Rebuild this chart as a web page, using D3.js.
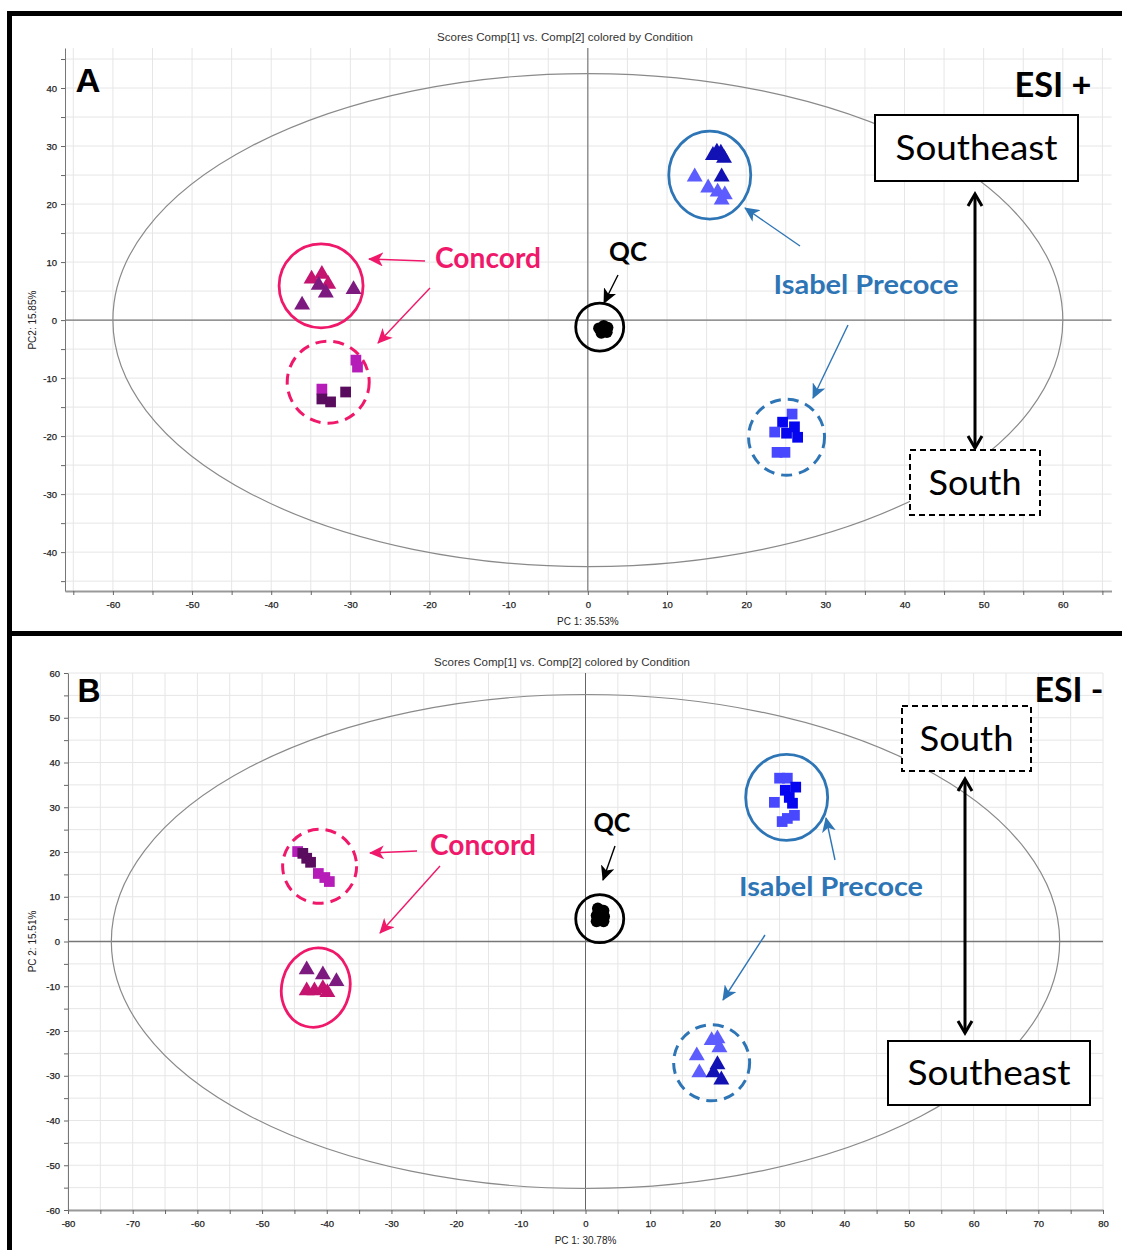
<!DOCTYPE html>
<html>
<head>
<meta charset="utf-8">
<script src="https://cdn.jsdelivr.net/npm/d3@7"></script>
<style>
  body { margin: 0; background: #fff; }
  svg { display: block; }
</style>
</head>
<body>
<svg id="chart" width="1122" height="1250"></svg>
<script>
// ---------- data ----------
const xTicksA = [-60, -50, -40, -30, -20, -10, 0, 10, 20, 30, 40, 50, 60];
const yTicksA = [-40, -30, -20, -10, 0, 10, 20, 30, 40];
const xTicksB = [-80, -70, -60, -50, -40, -30, -20, -10, 0, 10, 20, 30, 40, 50, 60, 70, 80];
const yTicksB = [-60, -50, -40, -30, -20, -10, 0, 10, 20, 30, 40, 50, 60];

const titles = ["Scores Comp[1] vs. Comp[2] colored by Condition", "Scores Comp[1] vs. Comp[2] colored by Condition"];
const xLabels = ["PC 1: 35.53%", "PC 1: 30.78%"];
const yLabels = ["PC2: 15.85%", "PC 2: 15.51%"];

// Hotelling T2 ellipse half axes (PC1, PC2)
const ellipseA = [60, 42.5];
const ellipseB = [73.3, 55.2];

// ESI + samples
const concordSE_A = [
  { x: -34.9, y: 7.1, c: "concSE1" }, { x: -33.6, y: 7.9, c: "concSE1" }, { x: -32.8, y: 6.2, c: "concSE1" },
  { x: -34.0, y: 6.0, c: "concSE2" }, { x: -33.1, y: 4.7, c: "concSE2" }, { x: -29.6, y: 5.3, c: "concSE2" },
  { x: -36.1, y: 2.6, c: "concSE2" }
];
const concordS_A = [
  { x: -29.3, y: -6.9, c: "concS1" }, { x: -29.1, y: -8.1, c: "concS1" }, { x: -33.6, y: -11.9, c: "concS1" },
  { x: -33.6, y: -13.6, c: "concS2" }, { x: -32.5, y: -14.1, c: "concS2" }, { x: -30.6, y: -12.4, c: "concS2" }
];
const qc_A = [
  { x: 1.4, y: -1.4 }, { x: 2.0, y: -1.0 }, { x: 2.4, y: -2.1 }, { x: 1.7, y: -2.2 },
  { x: 2.2, y: -1.5 }, { x: 1.8, y: -1.8 }, { x: 2.5, y: -1.3 }
];
const isabelSE_A = [
  { x: 16.3, y: 29.0, c: "isaSE1" }, { x: 16.8, y: 28.8, c: "isaSE1" }, { x: 15.8, y: 28.4, c: "isaSE1" },
  { x: 17.2, y: 27.9, c: "isaSE1" }, { x: 16.9, y: 24.7, c: "isaSE1" },
  { x: 13.5, y: 24.7, c: "isaSE2" }, { x: 15.2, y: 22.8, c: "isaSE2" }, { x: 16.4, y: 22.1, c: "isaSE2" },
  { x: 17.3, y: 21.6, c: "isaSE2" }, { x: 16.9, y: 20.7, c: "isaSE2" }
];
const isabelS_A = [
  { x: 25.8, y: -16.2, c: "isaS2" }, { x: 24.6, y: -17.6, c: "isaS1" }, { x: 23.6, y: -19.3, c: "isaS2" },
  { x: 25.1, y: -19.5, c: "isaS1" }, { x: 26.1, y: -18.4, c: "isaS1" }, { x: 26.5, y: -20.2, c: "isaS1" },
  { x: 23.9, y: -22.8, c: "isaS2" }, { x: 24.9, y: -22.8, c: "isaS2" }
];

// ESI - samples
const concordS_B = [
  { x: -44.5, y: 20.1, c: "concS1" }, { x: -43.7, y: 19.7, c: "concS2" }, { x: -43.1, y: 18.6, c: "concS2" },
  { x: -42.5, y: 17.7, c: "concS2" }, { x: -41.3, y: 15.2, c: "concS1" }, { x: -40.3, y: 14.3, c: "concS1" },
  { x: -39.6, y: 13.4, c: "concS1" }
];
const concordSE_B = [
  { x: -43.1, y: -6.3, c: "concSE2" }, { x: -40.6, y: -7.4, c: "concSE2" }, { x: -38.5, y: -8.9, c: "concSE2" },
  { x: -43.1, y: -11.0, c: "concSE1" }, { x: -41.9, y: -11.0, c: "concSE1" }, { x: -39.9, y: -11.4, c: "concSE1" },
  { x: -40.6, y: -10.5, c: "concSE1" }
];
const qc_B = [
  { x: 1.9, y: 7.4 }, { x: 2.8, y: 6.9 }, { x: 1.7, y: 5.8 }, { x: 2.9, y: 5.6 },
  { x: 2.2, y: 4.7 }, { x: 2.8, y: 4.5 }, { x: 1.7, y: 4.5 }
];
const isabelSE_B = [
  { x: 30.0, y: 36.5, c: "isaS2" }, { x: 31.2, y: 36.5, c: "isaS2" }, { x: 32.5, y: 34.5, c: "isaS1" },
  { x: 30.9, y: 33.8, c: "isaS1" }, { x: 31.5, y: 32.2, c: "isaS1" }, { x: 29.2, y: 31.1, c: "isaS2" },
  { x: 32.0, y: 30.9, c: "isaS1" }, { x: 30.4, y: 26.8, c: "isaS2" }, { x: 32.3, y: 28.2, c: "isaS2" },
  { x: 31.2, y: 27.5, c: "isaS2" }
];
const isabelS_B = [
  { x: 19.5, y: -22.1, c: "isaSE2" }, { x: 20.4, y: -21.7, c: "isaSE2" }, { x: 20.7, y: -23.7, c: "isaSE2" },
  { x: 17.2, y: -25.5, c: "isaSE2" }, { x: 17.6, y: -29.3, c: "isaSE2" },
  { x: 20.4, y: -27.5, c: "isaSE1" }, { x: 19.8, y: -29.3, c: "isaSE1" }, { x: 21.0, y: -30.9, c: "isaSE1" }
];

// ---------- styles ----------
const conditionColor = d3.scaleOrdinal()
  .domain(["concSE1", "concSE2", "concS1", "concS2", "isaSE1", "isaSE2", "isaS1", "isaS2"])
  .range(["#c4146f", "#7c1a80", "#b51cb8", "#5a0c5e", "#1212b4", "#5c5cff", "#0505f0", "#4848ff"]);

const PINK = "#f0186a";
const BLUE = "#2e75b6";
const annFont = "Lato, 'Open Sans', sans-serif";
const axisFont = "'Liberation Sans', Arial, sans-serif";

const svg = d3.select("#chart");

// arrow markers
const defs = svg.append("defs");
[["pink", PINK], ["blue", BLUE], ["black", "#000"]].forEach(([id, col]) => {
  defs.append("marker")
    .attr("id", "head-" + id)
    .attr("markerUnits", "userSpaceOnUse")
    .attr("markerWidth", 16).attr("markerHeight", 14)
    .attr("refX", 14).attr("refY", 7)
    .attr("orient", "auto")
    .append("path")
    .attr("d", "M0,0 L15,7 L0,14 L4,7 Z")
    .attr("fill", col);
});
defs.append("marker")
  .attr("id", "open-head")
  .attr("markerUnits", "userSpaceOnUse")
  .attr("markerWidth", 18).attr("markerHeight", 18)
  .attr("refX", 13).attr("refY", 9)
  .attr("orient", "auto-start-reverse")
  .append("path")
  .attr("d", "M2,2 L14,9 L2,16")
  .attr("fill", "none")
  .attr("stroke", "#000")
  .attr("stroke-width", 3);

function drawPanel(p) {
  const g = svg.append("g");
  const x = d3.scaleLinear().domain(p.xDomain).range([p.left, p.right]);
  const y = d3.scaleLinear().domain(p.yDomain).range([p.bottom, p.top]);

  // grid every 5 units
  const gx = d3.range(Math.ceil(p.xDomain[0] / 5) * 5, p.xDomain[1] + 0.01, 5);
  const gy = d3.range(Math.ceil(p.yDomain[0] / 5) * 5, p.yDomain[1] + 0.01, 5);
  g.append("g").selectAll("line").data(gx).join("line")
    .attr("x1", d => x(d)).attr("x2", d => x(d))
    .attr("y1", p.top).attr("y2", p.bottom)
    .attr("stroke", "#e6e6e6").attr("stroke-width", 1);
  g.append("g").selectAll("line").data(gy).join("line")
    .attr("x1", p.left).attr("x2", p.right)
    .attr("y1", d => y(d)).attr("y2", d => y(d))
    .attr("stroke", "#e6e6e6").attr("stroke-width", 1);

  // zero lines
  g.append("line").attr("x1", x(0)).attr("x2", x(0)).attr("y1", p.top).attr("y2", p.bottom)
    .attr("stroke", "#666").attr("stroke-width", 1);
  g.append("line").attr("x1", p.left).attr("x2", p.right).attr("y1", y(0)).attr("y2", y(0))
    .attr("stroke", "#777").attr("stroke-width", 1.3);

  // ellipse
  g.append("ellipse")
    .attr("cx", x(0)).attr("cy", y(0))
    .attr("rx", x(p.ellipse[0]) - x(0)).attr("ry", y(0) - y(p.ellipse[1]))
    .attr("fill", "none").attr("stroke", "#8a8a8a").attr("stroke-width", 1.2);

  // axes
  const fmt = d => (d % 10 === 0 ? d : "");
  const xAxis = g.append("g").attr("transform", `translate(0,${p.bottom})`)
    .call(d3.axisBottom(x).tickValues(gx).tickFormat(fmt).tickSize(4).tickSizeOuter(0));
  const yAxis = g.append("g").attr("transform", `translate(${p.left},0)`)
    .call(d3.axisLeft(y).tickValues(gy).tickFormat(fmt).tickSize(4).tickSizeOuter(0));
  xAxis.select(".domain").attr("stroke", "#999").attr("stroke-width", 2);
  yAxis.select(".domain").attr("stroke", "#777").attr("stroke-width", 1);
  [xAxis, yAxis].forEach(a => {
    a.selectAll(".tick line").attr("stroke", "#666");
    a.selectAll("text").attr("font-family", axisFont).attr("font-size", 9.5)
      .attr("fill", "#222").attr("stroke", "#222").attr("stroke-width", 0.25);
  });
  xAxis.selectAll("text").attr("dy", "1.05em");
  yAxis.selectAll("text").attr("dx", "-1");
  xAxis.selectAll(".tick").filter(d => !p.xTicks.includes(d)).select("text").remove();
  yAxis.selectAll(".tick").filter(d => !p.yTicks.includes(d)).select("text").remove();

  // titles
  g.append("text").attr("x", p.titleX).attr("y", p.top - 7)
    .attr("text-anchor", "middle").attr("font-family", axisFont).attr("font-size", 10)
    .attr("textLength", 256).attr("lengthAdjust", "spacingAndGlyphs")
    .attr("fill", "#333").text(p.title);
  g.append("text").attr("x", x(0)).attr("y", p.bottom + 34)
    .attr("text-anchor", "middle").attr("font-family", axisFont).attr("font-size", 10)
    .attr("fill", "#222").text(p.xLabel);
  g.append("text").attr("transform", `translate(36,${y(0)}) rotate(-90)`)
    .attr("text-anchor", "middle").attr("font-family", axisFont).attr("font-size", 10)
    .attr("fill", "#222").text(p.yLabel);

  // cluster rings
  p.rings.forEach(r => {
    g.append("ellipse")
      .attr("cx", x(r.x)).attr("cy", y(r.y))
      .attr("rx", r.rx).attr("ry", r.ry)
      .attr("transform", r.rot ? `rotate(${r.rot},${x(r.x)},${y(r.y)})` : null)
      .attr("fill", "none").attr("stroke", r.color).attr("stroke-width", r.dash ? 3 : 2.8)
      .attr("stroke-dasharray", r.dash ? "11,7" : null);
  });

  // samples
  const tri = d3.symbol(d3.symbolTriangle, 110);
  const sq = d3.symbol(d3.symbolSquare, 115);
  p.series.forEach(s => {
    g.append("g").selectAll("path").data(s.data).join("path")
      .attr("d", s.shape === "tri" ? tri : sq)
      .attr("transform", d => `translate(${x(d.x)},${y(d.y)})`)
      .attr("fill", d => conditionColor(d.c));
  });
  g.append("g").selectAll("circle").data(p.qc).join("circle")
    .attr("cx", d => x(d.x)).attr("cy", d => y(d.y)).attr("r", 5.8).attr("fill", "#000");

  // annotation texts
  p.labels.forEach(l => {
    g.append("text").attr("x", l.x).attr("y", l.y).attr("dy", "0.35em")
      .attr("text-anchor", "middle")
      .attr("font-family", l.font || annFont).attr("font-weight", l.bold ? 700 : 400)
      .attr("font-size", l.size).attr("fill", l.color)
      .attr("textLength", l.w).attr("lengthAdjust", "spacingAndGlyphs")
      .text(l.text);
  });

  // boxes
  p.boxes.forEach(b => {
    g.append("rect").attr("x", b.x).attr("y", b.y).attr("width", b.w).attr("height", b.h)
      .attr("fill", "#fff").attr("stroke", "#000").attr("stroke-width", 2)
      .attr("stroke-dasharray", b.dash ? "6,4" : null);
    g.append("text").attr("x", b.x + b.w / 2).attr("y", b.y + b.h / 2).attr("dy", "0.36em")
      .attr("text-anchor", "middle").attr("font-family", annFont).attr("font-size", 34)
      .attr("textLength", b.tw).attr("lengthAdjust", "spacingAndGlyphs")
      .text(b.text);
  });

  // arrows
  p.arrows.forEach(a => {
    g.append("line").attr("x1", a[0]).attr("y1", a[1]).attr("x2", a[2]).attr("y2", a[3])
      .attr("stroke", a[4] === "pink" ? PINK : a[4] === "blue" ? BLUE : "#000")
      .attr("stroke-width", 1.4)
      .attr("marker-end", `url(#head-${a[4]})`);
  });
  g.append("line")
    .attr("x1", p.dbl[0]).attr("y1", p.dbl[1]).attr("x2", p.dbl[2]).attr("y2", p.dbl[3])
    .attr("stroke", "#000").attr("stroke-width", 3)
    .attr("marker-start", "url(#open-head)").attr("marker-end", "url(#open-head)");
}

drawPanel({
  left: 65, right: 1111.5, top: 48, bottom: 591,
  xDomain: [-66.05, 66.15], yDomain: [-46.7, 46.9],
  xTicks: xTicksA, yTicks: yTicksA, ellipse: ellipseA,
  title: titles[0], titleX: 565, xLabel: xLabels[0], yLabel: yLabels[0],
  series: [
    { data: concordSE_A, shape: "tri" }, { data: concordS_A, shape: "sq" },
    { data: isabelSE_A, shape: "tri" }, { data: isabelS_A, shape: "sq" }
  ],
  qc: qc_A,
  rings: [
    { x: -33.7, y: 5.9, rx: 42, ry: 42, color: PINK },
    { x: -32.8, y: -10.7, rx: 41, ry: 41, color: PINK, dash: true },
    { x: 1.5, y: -1.2, rx: 24, ry: 24, color: "#000" },
    { x: 15.4, y: 25.0, rx: 41, ry: 44, color: BLUE },
    { x: 25.1, y: -20.2, rx: 38, ry: 38, color: BLUE, dash: true }
  ],
  labels: [
    { text: "A", x: 88, y: 80, size: 34, bold: true, color: "#000", w: 25, font: axisFont },
    { text: "ESI +", x: 1053, y: 85, size: 34, bold: true, color: "#000", w: 77 },
    { text: "Concord", x: 488, y: 258, size: 28, bold: true, color: PINK, w: 106 },
    { text: "QC", x: 628, y: 252, size: 27, bold: true, color: "#000", w: 38 },
    { text: "Isabel Precoce", x: 866, y: 285, size: 27, bold: true, color: BLUE, w: 185 }
  ],
  boxes: [
    { x: 875, y: 115, w: 203, h: 66, text: "Southeast", tw: 162 },
    { x: 910, y: 450, w: 130, h: 65, text: "South", tw: 93, dash: true }
  ],
  arrows: [
    [425, 261, 369, 259, "pink"], [430, 288, 378, 343, "pink"],
    [618, 275, 604, 303, "black"],
    [800, 246, 745, 208, "blue"], [848, 325, 813, 398, "blue"]
  ],
  dbl: [975, 195, 975, 447]
});

drawPanel({
  left: 68, right: 1103, top: 673, bottom: 1210,
  xDomain: [-80, 80], yDomain: [-60, 60],
  xTicks: xTicksB, yTicks: yTicksB, ellipse: ellipseB,
  title: titles[1], titleX: 562, xLabel: xLabels[1], yLabel: yLabels[1],
  series: [
    { data: concordS_B, shape: "sq" }, { data: concordSE_B, shape: "tri" },
    { data: isabelSE_B, shape: "sq" }, { data: isabelS_B, shape: "tri" }
  ],
  qc: qc_B,
  rings: [
    { x: -41.1, y: 16.8, rx: 37, ry: 37, color: PINK, dash: true },
    { x: -41.7, y: -10.3, rx: 34, ry: 40, rot: 15, color: PINK },
    { x: 2.2, y: 5.1, rx: 24, ry: 24, color: "#000" },
    { x: 31.1, y: 32.2, rx: 41, ry: 43, color: BLUE },
    { x: 19.5, y: -27.1, rx: 38, ry: 38, color: BLUE, dash: true }
  ],
  labels: [
    { text: "B", x: 89, y: 690, size: 34, bold: true, color: "#000", w: 23, font: axisFont },
    { text: "ESI -", x: 1069, y: 690, size: 34, bold: true, color: "#000", w: 69 },
    { text: "Concord", x: 483, y: 845, size: 28, bold: true, color: PINK, w: 106 },
    { text: "QC", x: 612, y: 823, size: 27, bold: true, color: "#000", w: 37 },
    { text: "Isabel Precoce", x: 831, y: 887, size: 27, bold: true, color: BLUE, w: 184 }
  ],
  boxes: [
    { x: 902, y: 706, w: 129, h: 65, text: "South", tw: 94, dash: true },
    { x: 888, y: 1041, w: 202, h: 64, text: "Southeast", tw: 163 }
  ],
  arrows: [
    [417, 851, 370, 853, "pink"], [440, 866, 380, 933, "pink"],
    [615, 846, 603, 880, "black"],
    [835, 860, 826, 818, "blue"], [765, 935, 723, 1000, "blue"]
  ],
  dbl: [965, 780, 965, 1032]
});

// panel frames
svg.append("rect").attr("x", 9.5).attr("y", 13.5).attr("width", 1120).attr("height", 620)
  .attr("fill", "none").attr("stroke", "#000").attr("stroke-width", 5);
svg.append("rect").attr("x", 9.5).attr("y", 633.5).attr("width", 1120).attr("height", 630)
  .attr("fill", "none").attr("stroke", "#000").attr("stroke-width", 5);
</script>
</body>
</html>
